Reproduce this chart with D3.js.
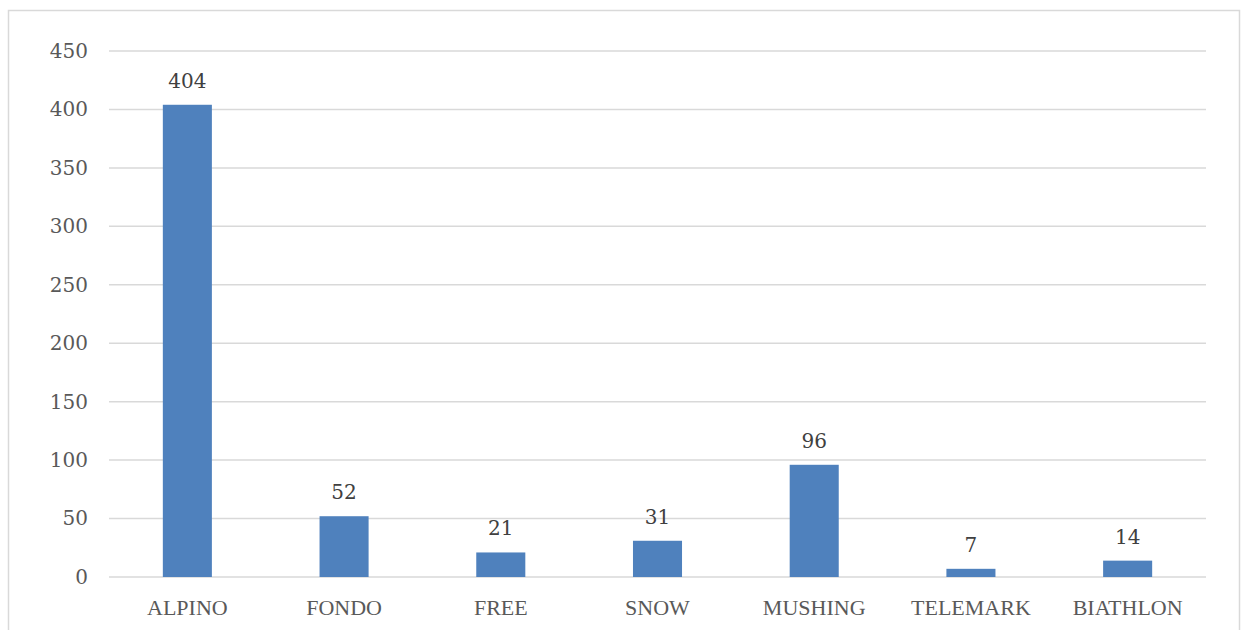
<!DOCTYPE html>
<html><head><meta charset="utf-8">
<script src="https://cdn.jsdelivr.net/npm/d3@7"></script>
<style>body{margin:0;background:#fff}svg{display:block}</style>
</head><body>
<script>
const categories = ["ALPINO","FONDO","FREE","SNOW","MUSHING","TELEMARK","BIATHLON"];
const values = [404,52,21,31,96,7,14];
const yTicks = [0,50,100,150,200,250,300,350,400,450];

const W=1243,H=630;
const svg=d3.select("body").append("svg").attr("width",W).attr("height",H);
const numFont="'DejaVu Serif', serif";
const catFont="'Liberation Serif', serif";
svg.append("rect").attr("x",8.5).attr("y",10.5).attr("width",1231).attr("height",640)
  .attr("fill","none").attr("stroke","#d9d9d9").attr("stroke-width",1.5);

const x=d3.scaleBand().domain(categories).range([109,1206]).paddingInner(0.687).paddingOuter(0.3435);
const y=d3.scaleLinear().domain([0,450]).range([577,51]);

const grid=svg.append("g");
grid.selectAll("line").data(yTicks).join("line")
  .attr("x1",109).attr("x2",1206).attr("y1",d=>y(d)).attr("y2",d=>y(d))
  .attr("stroke","#d9d9d9").attr("stroke-width",1.5);

const yAxis=svg.append("g").attr("transform","translate(109,0)")
  .call(d3.axisLeft(y).tickValues(yTicks).tickSize(0).tickPadding(21));
yAxis.select(".domain").remove();
yAxis.selectAll("text").attr("font-family",numFont).attr("font-size",20).attr("fill","#595959");

const xAxis=svg.append("g").attr("transform","translate(0,577)")
  .call(d3.axisBottom(x).tickSize(0).tickPadding(22));
xAxis.select(".domain").remove();
xAxis.selectAll("text").attr("font-family",catFont).attr("font-size",22).attr("fill","#595959");

svg.append("g").selectAll("rect").data(values).join("rect")
  .attr("x",(d,i)=>x(categories[i])).attr("width",x.bandwidth())
  .attr("y",d=>y(d)).attr("height",d=>y(0)-y(d)).attr("fill","#4f81bd");

svg.append("g").selectAll("text").data(values).join("text")
  .attr("x",(d,i)=>x(categories[i])+x.bandwidth()/2).attr("y",d=>y(d)-17)
  .attr("text-anchor","middle").attr("font-family",numFont).attr("font-size",20).attr("fill","#404040")
  .text(d=>d);
</script>
</body></html>
